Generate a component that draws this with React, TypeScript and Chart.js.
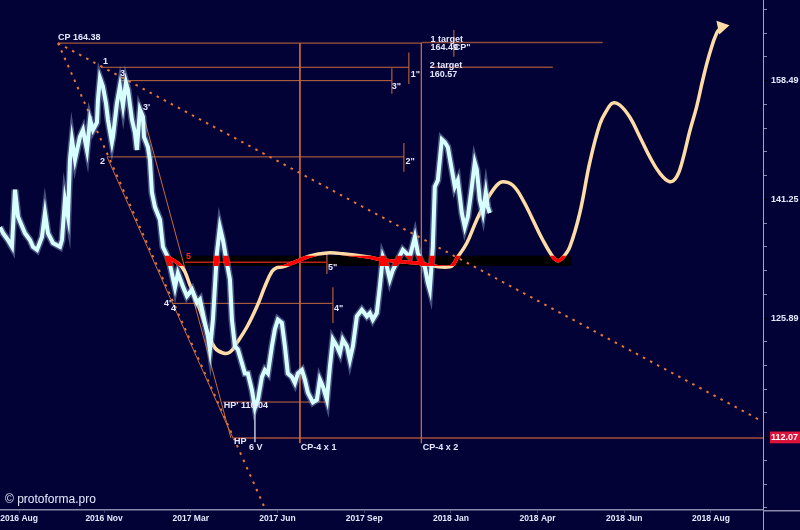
import React, { useEffect, useRef } from 'react';
import { Chart, registerables } from 'chart.js';

Chart.register(...registerables);

// ---------------- data ----------------
// x: trading-period index (10 periods between labels)
const xMin = 0;
const xMax = 88;
const xTickValues = [2.2, 12, 22, 32, 42, 52, 62, 72, 82];
const xTickLabels = ['2016 Aug', '2016 Nov', '2017 Mar', '2017 Jun', '2017 Sep', '2018 Jan', '2018 Apr', '2018 Jun', '2018 Aug'];

const yMin = 104.5;
const yMax = 171.4;
const yTickLabels = [125.89, 141.25, 158.49];
const lastPrice = 112.07;

const priceT = [0, 0.35, 0.92, 1.38, 1.73, 2.08, 2.88, 3.46, 3.8, 4.27,
  4.84, 5.19, 5.53, 6.11, 6.92, 7.15, 7.49, 7.84, 8.07, 8.3,
  8.65, 9.22, 9.57, 10.03, 10.38, 10.72, 11.18, 11.3, 11.53, 11.87,
  12.22, 12.45, 12.91, 13.03, 13.49, 13.83, 14.18, 14.53, 14.76, 15.22,
  15.56, 15.79, 16.14, 16.49, 16.6, 17.06, 17.29, 17.52, 17.87, 18.45,
  18.79, 19.25, 19.6, 20.18, 20.52, 21.1, 21.56, 22.14, 22.71, 23.06,
  23.63, 23.98, 24.21, 24.56, 25.02, 25.36, 25.71, 26.17, 26.52, 26.75,
  27.09, 27.44, 27.9, 28.25, 28.59, 29.05, 29.4, 29.75, 30.21, 30.55,
  30.9, 31.36, 31.7, 32.05, 32.51, 32.86, 33.2, 33.66, 34.01, 34.36,
  34.82, 35.16, 35.51, 36.09, 36.55, 36.89, 37.24, 37.7, 38.05, 38.39,
  38.85, 39.2, 39.54, 40.01, 40.35, 40.7, 41.16, 41.73, 42.31, 42.66,
  43.0, 43.46, 43.81, 44.16, 44.62, 44.96, 45.31, 45.89, 46.46, 47.27,
  47.85, 48.19, 48.65, 49.0, 49.34, 49.57, 49.92, 50.15, 50.5, 50.96,
  51.3, 51.65, 52.11, 52.46, 52.8, 53.26, 53.61, 53.96, 54.42, 54.76,
  54.99, 55.34, 55.69, 56.03, 56.26, 56.49];
const priceV = [137.5, 136.7, 135.8, 134.9, 142.6, 138.9, 136.7, 135.8, 134.9, 134.5,
  136.2, 139.4, 136.7, 135.4, 134.9, 135.8, 141.2, 138.9, 146.8, 149.7,
  146.8, 150.1, 151.1, 148.2, 152.6, 151.1, 152.2, 155.6, 158.9, 157.6,
  155.1, 152.6, 149.3, 150.1, 155.1, 157.6, 154.7, 158.2, 157.1, 152.6,
  150.7, 148.2, 154.1, 153.0, 150.1, 148.6, 146.8, 142.2, 140.2, 138.5,
  134.9, 133.8, 132.6, 129.7, 131.5, 129.8, 128.6, 129.4, 127.8, 128.2,
  125.3, 123.7, 122.1, 125.7, 134.1, 137.5, 135.8, 132.8, 130.7, 125.7,
  122.5, 122.1, 120.5, 119.3, 119.3, 117.4, 115.4, 116.3, 118.9, 119.7,
  119.3, 122.5, 124.5, 125.7, 125.3, 122.5, 119.3, 118.9, 118.2, 119.3,
  119.7, 118.6, 117.1, 116.0, 116.3, 118.6, 117.8, 116.3, 120.1, 123.3,
  122.5, 121.7, 123.3, 122.5, 120.9, 122.5, 126.1, 126.9, 126.1, 126.5,
  125.7, 126.5, 129.8, 133.6, 132.3, 130.7, 131.9, 133.2, 134.5, 133.6,
  136.2, 134.1, 132.8, 132.3, 130.3, 129.4, 134.9, 143.0, 143.9, 149.7,
  149.3, 148.6, 145.4, 143.0, 143.9, 139.4, 137.5, 138.9, 143.0, 146.4,
  145.4, 141.2, 139.4, 142.2, 140.2, 139.4];

const forecastT = [19.37, 20.98, 21.91, 23.06, 23.98, 24.79, 25.71, 26.52, 27.32, 28.48,
  29.63, 30.55, 31.36, 31.94, 32.63, 33.78, 35.74, 37.7, 39.54, 42.31,
  44.16, 48.08, 51.88, 52.8, 53.84, 54.99, 56.15, 57.3, 57.99, 59.14,
  60.3, 61.45, 62.6, 63.76, 64.33, 64.91, 65.72, 66.87, 68.02, 69.17,
  69.98, 70.67, 71.48, 72.63, 73.79, 74.94, 76.09, 77.24, 78.05, 78.74,
  79.55, 80.36, 81.05, 81.86, 82.66, 83.24];
const forecastV = [133.6, 132.3, 130.0, 126.9, 124.1, 122.3, 121.7, 121.8, 122.9, 124.8,
  127.3, 129.8, 131.7, 132.2, 132.3, 132.8, 133.7, 134.1, 134.0, 133.6,
  133.2, 132.8, 132.3, 133.6, 135.4, 138.5, 141.2, 143.2, 143.7, 143.2,
  141.2, 138.5, 135.8, 133.6, 133.1, 133.5, 134.9, 139.4, 146.4, 151.9,
  154.0, 155.1, 154.8, 153.0, 150.1, 147.2, 144.9, 143.7, 144.4, 146.8,
  150.9, 154.6, 158.6, 162.8, 166.0, 167.0];

// black zone
const bandT = [18.79, 65.95];
const bandP = [133.75, 132.4]; // top, bottom

// horizontal levels: tStart, tEnd, price
const levelLines = [
  [6.69, 48.6, 164.38],   // CP
  [11.64, 47.15, 160.57], // 1
  [13.95, 45.19, 158.5],  // 3
  [12.34, 46.58, 147.2],  // 2
  [19.83, 38.39, 127.7],  // 4
  [25.71, 37.47, 116.04], // HP'
];
const targetLines = [
  [48.6, 69.52, 164.49],  // 1 target
  [49.57, 63.76, 160.57], // 2 target
];
const level5Line = [21.33, 37.7, 132.9];
const hpLine = [26.86, 88, 112.07];
// verticals: t, pTop, pBottom
const verticalLines = [
  [34.59, 164.38, 111.5], // CP-4 x 1
  [48.6, 164.38, 111.5],  // CP-4 x 2
];
const tickMarks = [
  [47.15, 162.9, 158.0],
  [45.19, 160.4, 156.5],
  [46.58, 149.2, 145.1],
  [38.39, 129.7, 125.3],
  [37.7, 134.1, 131.4],
  [52.34, 166.5, 162.2],
];
// slanted: t0, p0, t1, p1
const slantLines = [
  [12.34, 147.2, 26.86, 112.07],
  [16.49, 153.5, 26.63, 112.07],
];
const dottedLines = [
  [6.69, 164.38, 87.5, 114.1],
  [6.69, 164.38, 30.44, 104.9],
];
const wickLine = [29.4, 115.4, 111.6];

const annoText = ['CP 164.38', '1', '3', '2', "3'", "4'", '4', '5', '5"', '4"', "HP' 116.04", 'HP', '6 V',
  'CP-4 x 1', 'CP-4 x 2', '1"', '3"', '2"', '1 target', '164.49', 'CP"', '2 target', '160.57'];
const annoT = [6.69, 11.87, 13.83, 11.53, 16.49, 18.91, 19.71, 21.44, 37.82, 38.51, 25.82, 26.98, 28.71,
  34.7, 48.77, 47.38, 45.19, 46.77, 49.66, 49.66, 52.34, 49.57, 49.57];
const annoP = [165.2, 161.4, 159.6, 146.5, 154.4, 127.7, 127.1, 133.6, 132.2, 127.1, 115.7, 111.7, 111.0,
  111.0, 111.0, 159.5, 157.6, 146.5, 165.0, 163.6, 163.6, 160.8, 159.5];
const watermark = '© protoforma.pro';

// ---------------- styles ----------------
const BG = '#020236';
const ORANGE = '#c66a3e';
const BROWN = '#8e4a3a';
const FONT = '"Liberation Sans", Arial, sans-serif';
const TEXT = '#e6e8ff';

const pts = (t: number[], v: number[]) => t.map((x, i) => ({ x, y: v[i] }));

const lineDs = (data: any[], color: string, width: number, order: number, extra: any = {}) => ({
  type: 'line',
  data,
  borderColor: color,
  borderWidth: width,
  pointRadius: 0,
  fill: false,
  tension: 0,
  order,
  ...extra,
});

const bgPlugin = {
  id: 'bg',
  beforeDraw(chart: any) {
    const ctx = chart.ctx;
    ctx.save();
    ctx.fillStyle = BG;
    ctx.fillRect(0, 0, chart.width, chart.height);
    ctx.restore();
  },
  afterDraw(chart: any) {
    const { ctx, chartArea } = chart;
    ctx.save();
    ctx.strokeStyle = '#a4a4c4';
    ctx.lineWidth = 1;
    ctx.beginPath();
    ctx.moveTo(chartArea.right + 0.5, chartArea.bottom);
    ctx.lineTo(chartArea.right + 0.5, chart.height);
    ctx.stroke();
    ctx.strokeStyle = '#8a8aaa';
    ctx.lineWidth = 1.5;
    ctx.beginPath();
    ctx.moveTo(chartArea.right, chartArea.bottom + 0.75);
    ctx.lineTo(chart.width, chartArea.bottom + 0.75);
    ctx.stroke();
    ctx.restore();
  },
};

const bandClipPlugin = {
  id: 'bandClip',
  beforeDatasetDraw(chart: any, args: any) {
    const ds = chart.data.datasets[args.index];
    if (!ds.clipToBand) return;
    const x = chart.scales.x;
    const y = chart.scales.y;
    const l = x.getPixelForValue(bandT[0]);
    const r = x.getPixelForValue(bandT[1]);
    const t = y.getPixelForValue(bandP[0]);
    const b = y.getPixelForValue(bandP[1]);
    const ctx = chart.ctx;
    ctx.save();
    ctx.beginPath();
    ctx.rect(l, t, r - l, b - t);
    ctx.clip();
  },
  afterDatasetDraw(chart: any, args: any) {
    const ds = chart.data.datasets[args.index];
    if (!ds.clipToBand) return;
    chart.ctx.restore();
  },
};

const redLabels = new Set(['5']);

const annoPlugin = {
  id: 'anno',
  afterDatasetsDraw(chart: any) {
    const { ctx, chartArea } = chart;
    const x = chart.scales.x;
    const y = chart.scales.y;
    ctx.save();
    ctx.font = `bold 9px ${FONT}`;
    ctx.textBaseline = 'middle';
    ctx.textAlign = 'left';
    annoText.forEach((t, i) => {
      ctx.fillStyle = redLabels.has(t) ? '#ff2a2a' : TEXT;
      ctx.fillText(t, x.getPixelForValue(annoT[i]), y.getPixelForValue(annoP[i]));
    });
    ctx.font = `12px ${FONT}`;
    ctx.fillStyle = TEXT;
    ctx.fillText(watermark, chartArea.left + 5, chartArea.bottom - 10);
    ctx.restore();
  },
};

export default function App() {
  const ref = useRef<HTMLCanvasElement | null>(null);

  useEffect(() => {
    if (!ref.current) return;
    const labeled = new Set([...yTickLabels, lastPrice]);

    const datasets: any[] = [];
    // band (fill between two edges)
    datasets.push(lineDs([{ x: bandT[0], y: bandP[0] }, { x: bandT[1], y: bandP[0] }], 'rgba(0,0,0,0)', 0, 100));
    datasets.push(lineDs([{ x: bandT[0], y: bandP[1] }, { x: bandT[1], y: bandP[1] }], 'rgba(0,0,0,0)', 0, 99,
      { fill: '-1', backgroundColor: '#000000' }));

    dottedLines.forEach((s) => datasets.push(lineDs([{ x: s[0], y: s[1] }, { x: s[2], y: s[3] }], '#e8783a', 2, 60,
      { borderDash: [2.5, 5.5] })));
    levelLines.forEach((s) => datasets.push(lineDs([{ x: s[0], y: s[2] }, { x: s[1], y: s[2] }], ORANGE, 1, 55)));
    targetLines.forEach((s) => datasets.push(lineDs([{ x: s[0], y: s[2] }, { x: s[1], y: s[2] }], BROWN, 1.5, 55)));
    verticalLines.forEach((s) => datasets.push(lineDs([{ x: s[0], y: s[1] }, { x: s[0], y: s[2] }], ORANGE, 1, 55)));
    tickMarks.forEach((s) => datasets.push(lineDs([{ x: s[0], y: s[1] }, { x: s[0], y: s[2] }], BROWN, 1.5, 55)));
    slantLines.forEach((s) => datasets.push(lineDs([{ x: s[0], y: s[1] }, { x: s[2], y: s[3] }], ORANGE, 1, 55)));
    datasets.push(lineDs([{ x: level5Line[0], y: level5Line[2] }, { x: level5Line[1], y: level5Line[2] }], '#c0201a', 1.5, 54));
    datasets.push(lineDs([{ x: hpLine[0], y: hpLine[2] }, { x: hpLine[1], y: hpLine[2] }], '#7c3a38', 2, 56));

    // forecast curve
    const fc = pts(forecastT, forecastV);
    const lastIdx = forecastT.length - 1;
    datasets.push(lineDs(fc, '#ffdca6', 3.5, 30, {
      tension: 0.4,
      pointRadius: (c: any) => (c.dataIndex === lastIdx ? 8 : 0),
      pointStyle: 'triangle',
      pointRotation: 78,
      pointBackgroundColor: '#ffdca6',
      pointBorderWidth: 0,
    }));

    // price
    const pr = pts(priceT, priceV);
    datasets.push(lineDs(pr, 'rgba(150,175,215,0.45)', 7, 22));
    datasets.push(lineDs(pr, '#d8ffff', 4, 20));
    datasets.push(lineDs([{ x: wickLine[0], y: wickLine[1] }, { x: wickLine[0], y: wickLine[2] }], '#b8c8e0', 1.5, 21));

    // red highlight inside black zone
    datasets.push(lineDs(fc, '#ff0000', 3.5, 6, { tension: 0.4, clipToBand: true }));
    datasets.push(lineDs(pr, '#ff0000', 5, 5, { clipToBand: true }));

    const chart = new Chart(ref.current, {
      type: 'line',
      data: { datasets },
      options: {
        animation: false,
        responsive: false,
        maintainAspectRatio: false,
        layout: { padding: 0, autoPadding: false },
        plugins: { legend: { display: false }, tooltip: { enabled: false } },
        scales: {
          x: {
            type: 'linear',
            min: xMin,
            max: xMax,
            position: 'bottom',
            border: { color: '#8a8aaa', width: 1.5 },
            grid: { drawOnChartArea: false, drawTicks: true, tickLength: 3, color: '#3a3a66' },
            ticks: {
              autoSkip: false,
              maxRotation: 0,
              padding: 1,
              color: TEXT,
              font: { family: FONT, size: 8.5, weight: 'bold' },
              callback: (_v: any, i: number) => xTickLabels[i] ?? '',
            },
            afterBuildTicks: (s: any) => {
              s.ticks = xTickValues.map((v) => ({ value: v }));
            },
            afterFit: (s: any) => {
              s.height = 20;
              s.paddingLeft = 0;
              s.paddingRight = 0;
            },
          },
          y: {
            type: 'logarithmic',
            position: 'right',
            min: yMin,
            max: yMax,
            border: { color: '#a4a4c4', width: 1 },
            grid: {
              drawOnChartArea: false,
              drawTicks: true,
              tickLength: 4,
              color: (c: any) => (c.tick && labeled.has(c.tick.value) ? '#000000' : '#8a8ab0'),
            },
            ticks: {
              autoSkip: false,
              padding: 4,
              color: (c: any) => (c.tick && c.tick.value === lastPrice ? '#ffffff' : TEXT),
              font: { family: FONT, size: 9, weight: 'bold' },
              showLabelBackdrop: (c: any) => !!(c.tick && c.tick.value === lastPrice),
              backdropColor: '#dc143c',
              backdropPadding: { top: 1, bottom: 0, left: 1, right: 2 },
              callback: (v: any) => (labeled.has(v) ? Number(v).toFixed(2) : ''),
            },
            afterBuildTicks: (s: any) => {
              const ticks: any[] = [];
              for (let k = 2; k <= 23; k++) {
                if (k % 5 === 0) continue;
                ticks.push({ value: Math.pow(10, 2 + k / 100) });
              }
              yTickLabels.forEach((v) => ticks.push({ value: v }));
              ticks.push({ value: lastPrice });
              ticks.sort((a, b) => a.value - b.value);
              s.ticks = ticks;
            },
            afterFit: (s: any) => {
              s.width = 37;
              s.paddingTop = 0;
              s.paddingBottom = 0;
            },
          },
        },
      } as any,
      plugins: [bgPlugin, bandClipPlugin, annoPlugin],
    } as any);

    return () => chart.destroy();
  }, []);

  return (
    <div style={{ position: 'absolute', left: 0, top: 0, width: 800, height: 530, background: BG }}>
      <canvas ref={ref} width={800} height={530} />
    </div>
  );
}
